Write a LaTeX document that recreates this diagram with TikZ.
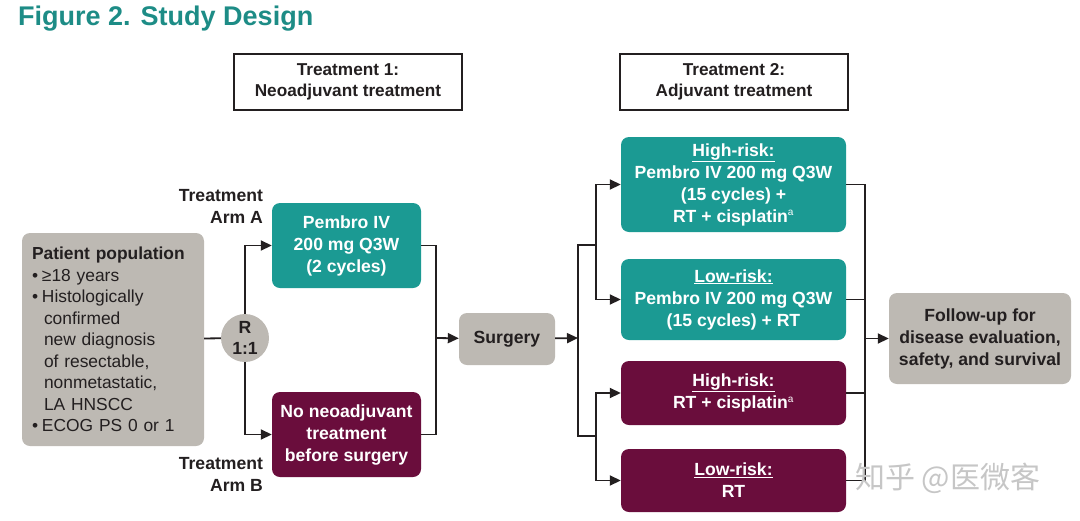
\documentclass[tikz,border=0pt]{standalone}
\usepackage{fontspec}
\setmainfont{Liberation Sans}
\newfontfamily\cjkfont{Noto Sans CJK SC}
\usetikzlibrary{arrows.meta}
\definecolor{tealc}{HTML}{1B9A93}
\definecolor{titlec}{HTML}{1D8C86}
\definecolor{maroonc}{HTML}{6A0D3C}
\definecolor{grayc}{HTML}{BDB9B3}
\definecolor{darkc}{HTML}{231F20}
\newcommand\bul{\makebox[10pt][l]{•}}
\newcommand\ind{\hspace*{12pt}}
\newcommand\supa{\textsuperscript{\normalfont\fontsize{10}{10}\selectfont a}}
\tikzset{
  txt/.style={font=\bfseries\fontsize{17.6}{22}\selectfont},
  box/.style={txt, rounded corners=8pt, align=center, inner sep=0pt},
  tealbox/.style={box, fill=tealc, text=white},
  maroonbox/.style={box, fill=maroonc, text=white},
  graybox/.style={box, fill=grayc, text=darkc},
  hdr/.style={txt, draw=darkc, line width=1.4pt, fill=white, align=center, inner sep=0pt, text=darkc, minimum width=228pt, minimum height=56pt, font=\bfseries\fontsize{17.2}{21}\selectfont},
  conn/.style={draw=darkc, line width=1.8pt},
  arr/.style={conn, -{Triangle[length=11pt,width=10pt]}},
  lbl/.style={txt, text=darkc, align=right, anchor=east}
}
\begin{document}
\begin{tikzpicture}[x=1pt,y=-1pt]
\useasboundingbox (0,0) rectangle (1080,520);
\node[anchor=base west, font=\bfseries\fontsize{27}{30}\selectfont, text=titlec, inner sep=0pt] (title) at (18,25.5) {Figure 2. Study Design};

\node[hdr] (t1) at (348,82) {Treatment 1:\\Neoadjuvant treatment};
\node[hdr] (t2) at (734,82) {Treatment 2:\\Adjuvant treatment};

\node[graybox, minimum width=182pt, minimum height=213pt, align=left, text width=162pt, font=\fontsize{17.4}{21.5}\selectfont] (pp) at (113,339.5)
 {{\bfseries Patient population}\\
  \bul≥18 years\\
  \bul Histologically\\
  \ind confirmed\\
  \ind new diagnosis\\
  \ind of resectable,\\
  \ind nonmetastatic,\\
  \ind LA HNSCC\\
  \bul ECOG PS 0 or 1};

\node[circle, fill=grayc, text=darkc, minimum size=48pt, inner sep=0pt, align=center, font=\bfseries\fontsize{17.6}{21}\selectfont] (R) at (245,338) {R\\1:1};

\node[tealbox, minimum width=149pt, minimum height=85pt] (armA) at (346.5,245.5) {Pembro IV\\200 mg Q3W\\(2 cycles)};
\node[maroonbox, minimum width=149pt, minimum height=85pt] (armB) at (346.5,434.5) {No neoadjuvant\\treatment\\before surgery};

\node[lbl] (lA) at (266.5,206.5) {Treatment\\Arm A};
\node[lbl] (lB) at (266.5,474) {Treatment\\Arm B};

\node[graybox, minimum width=96pt, minimum height=52pt] (surg) at (507,339) {Surgery};

\node[tealbox, minimum width=225pt, minimum height=95pt] (hr1) at (733.5,184.5) {\underline{High-risk:}\\Pembro IV 200 mg Q3W\\(15 cycles) +\\RT + cisplatin\supa};
\node[tealbox, minimum width=225pt, minimum height=81pt] (lr1) at (733.5,299.5) {\underline{Low-risk:}\\Pembro IV 200 mg Q3W\\(15 cycles) + RT};
\node[maroonbox, minimum width=225pt, minimum height=64pt] (hr2) at (733.5,393) {\underline{High-risk:}\\RT + cisplatin\supa};
\node[maroonbox, minimum width=225pt, minimum height=63pt] (lr2) at (733.5,480.5) {\underline{Low-risk:}\\RT};

\node[graybox, minimum width=182pt, minimum height=91pt] (fu) at (980,338.5) {Follow-up for\\disease evaluation,\\safety, and survival};

\coordinate (j1) at (436,338);
\coordinate (j2) at (578,338);
\coordinate (ja) at (596,245);
\coordinate (jb) at (596,436);
\coordinate (j4) at (865,338.5);

\draw[conn] (pp) -- (R);
\draw[arr] (R.north) |- (armA.west);
\draw[arr] (R.south) |- (armB.west);
\draw[conn] (armA.east) -| (j1);
\draw[conn] (armB.east) -| (j1);
\draw[arr] (j1) -- (surg);
\draw[arr] (surg) -- (j2);
\draw[conn] (j2) |- (ja);
\draw[conn] (j2) |- (jb);
\draw[arr] (ja) |- (hr1.west);
\draw[arr] (ja) |- (lr1.west);
\draw[arr] (jb) |- (hr2.west);
\draw[arr] (jb) |- (lr2.west);
\draw[conn] (hr1.east) -| (j4);
\draw[conn] (lr1.east) -| (j4);
\draw[conn] (hr2.east) -| (j4);
\draw[conn] (lr2.east) -| (j4);
\draw[arr] (j4) -- (fu);

\node[anchor=west, text=gray!45, font=\cjkfont\fontsize{30}{32}\selectfont, inner sep=0pt] (wm) at (855,478) {知乎 @医微客};
\end{tikzpicture}
\end{document}
